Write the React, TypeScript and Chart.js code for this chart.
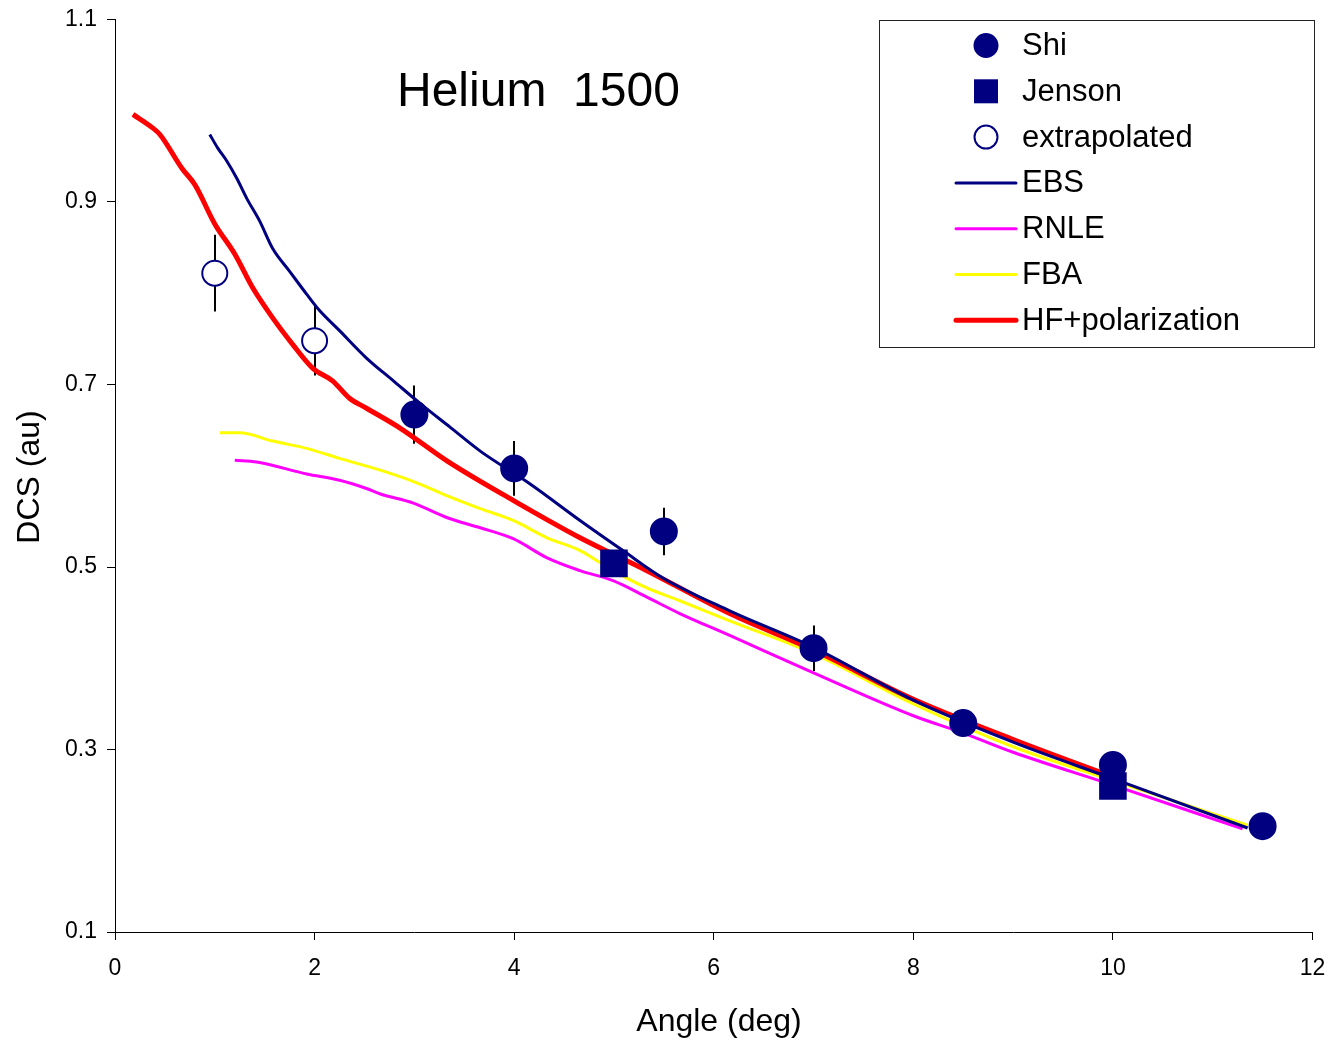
import React, { useEffect, useRef } from "react";
import { Chart, registerables } from "chart.js";

Chart.register(...registerables);

// ---- Data ----
const shiX = [3, 4, 5.5, 7, 8.5, 10, 11.5];
const shiY = [0.667, 0.608, 0.539, 0.411, 0.329, 0.283, 0.216];
const shiErr = [0.032, 0.03, 0.026, 0.025, 0.015, 0.015, 0];

const jensonX = [5, 10];
const jensonY = [0.504, 0.26];

const extrapX = [1, 2];
const extrapY = [0.822, 0.748];
const extrapErr = [0.042, 0.038];

const ebsX = [0.95, 1.03, 1.12, 1.22, 1.32, 1.45, 1.58, 1.75, 1.92, 2.05, 2.25, 2.52, 2.79, 3.06, 3.36, 3.66, 4.16, 4.66, 5.09, 5.49, 6.16, 7.0, 8.0, 9.0, 10.0, 11.35];
const ebsY = [0.974, 0.959, 0.945, 0.926, 0.904, 0.879, 0.849, 0.824, 0.799, 0.781, 0.759, 0.729, 0.704, 0.679, 0.653, 0.627, 0.591, 0.551, 0.518, 0.488, 0.452, 0.412, 0.354, 0.308, 0.268, 0.214];

const rnleX = [1.2, 1.42, 1.92, 2.25, 2.52, 2.66, 2.99, 3.33, 3.66, 3.99, 4.33, 4.66, 4.99, 5.33, 5.66, 6.16, 7.0, 8.0, 8.5, 9.0, 10.0, 11.3];
const rnleY = [0.617, 0.615, 0.602, 0.595, 0.586, 0.58, 0.57, 0.554, 0.543, 0.531, 0.51, 0.496, 0.485, 0.467, 0.449, 0.425, 0.384, 0.337, 0.318, 0.297, 0.261, 0.213];

const fbaX = [1.05, 1.25, 1.58, 1.92, 2.25, 2.69, 3.03, 3.33, 3.66, 3.99, 4.33, 4.66, 4.99, 5.33, 5.66, 6.16, 7.0, 8.0, 9.0, 10.0, 11.35];
const fbaY = [0.647, 0.647, 0.638, 0.63, 0.619, 0.605, 0.592, 0.578, 0.564, 0.551, 0.532, 0.518, 0.496, 0.477, 0.463, 0.441, 0.405, 0.35, 0.303, 0.266, 0.217];

const hfX = [0.18, 0.38, 0.45, 0.67, 0.8, 1.0, 1.2, 1.38, 1.58, 1.78, 1.98, 2.18, 2.35, 2.52, 2.86, 3.33, 3.99, 4.66, 5.33, 6.16, 7.0, 8.0, 9.0, 10.0];
const hfY = [0.996, 0.981, 0.974, 0.937, 0.919, 0.876, 0.843, 0.806, 0.773, 0.744, 0.718, 0.704, 0.685, 0.674, 0.652, 0.616, 0.573, 0.532, 0.496, 0.449, 0.409, 0.355, 0.311, 0.27];

const xTickMin = 0, xTickMax = 12, xTickStep = 2;
const yTickMin = 0.1, yTickMax = 1.1, yTickStep = 0.2;

const chartTitle = "Helium  1500";
const xTitle = "Angle (deg)";
const yTitle = "DCS (au)";

const NAVY = "#000080";
const FONT = "'Liberation Sans', Arial, sans-serif";

const zip = (xs: number[], ys: number[]) => xs.map((x, i) => ({ x, y: ys[i] }));

const errorBars = [
  { xs: shiX, ys: shiY, errs: shiErr },
  { xs: extrapX, ys: extrapY, errs: extrapErr },
];

const overlayPlugin = {
  id: "overlay",
  beforeDatasetsDraw(chart: any) {
    const { ctx, scales } = chart;
    const xs = scales.x, ys = scales.y;
    ctx.save();
    ctx.strokeStyle = "#000";
    ctx.lineWidth = 2;
    errorBars.forEach((s) => {
      s.xs.forEach((x, i) => {
        if (!s.errs[i]) return;
        const px = Math.round(xs.getPixelForValue(x));
        ctx.beginPath();
        ctx.moveTo(px, ys.getPixelForValue(s.ys[i] + s.errs[i]));
        ctx.lineTo(px, ys.getPixelForValue(s.ys[i] - s.errs[i]));
        ctx.stroke();
      });
    });
    ctx.restore();
  },
  afterDraw(chart: any) {
    const { ctx } = chart;
    ctx.save();
    ctx.fillStyle = "#000";
    // Title
    ctx.font = `48px ${FONT}`;
    ctx.textAlign = "left";
    ctx.textBaseline = "middle";
    ctx.fillText(chartTitle, 397, 93);
    // Axis titles
    ctx.font = `32px ${FONT}`;
    ctx.textAlign = "center";
    ctx.fillText(xTitle, 719, 1022);
    ctx.save();
    ctx.translate(30, 477);
    ctx.rotate(-Math.PI / 2);
    ctx.fillText(yTitle, 0, 0);
    ctx.restore();

    // Legend
    const bx = 879.5, by = 20.5, bw = 435, bh = 327;
    ctx.fillStyle = "#fff";
    ctx.fillRect(bx, by, bw, bh);
    ctx.strokeStyle = "#222";
    ctx.lineWidth = 1;
    ctx.strokeRect(bx, by, bw, bh);
    const rowY0 = 45.5, rowH = 45.8;
    const markX = 986, lineX0 = 956, lineX1 = 1016, textX = 1022;
    chart.data.datasets.forEach((ds: any, i: number) => {
      const y = rowY0 + i * rowH;
      if (ds.showLine) {
        ctx.strokeStyle = ds.borderColor;
        ctx.lineWidth = ds.borderWidth;
        ctx.lineCap = "round";
        ctx.beginPath();
        ctx.moveTo(lineX0, y);
        ctx.lineTo(lineX1, y);
        ctx.stroke();
      } else {
        ctx.fillStyle = ds.pointBackgroundColor;
        ctx.strokeStyle = ds.pointBorderColor;
        ctx.lineWidth = ds.pointBorderWidth;
        if (ds.pointStyle === "rect") {
          ctx.fillRect(markX - 12, y - 12, 24, 24);
        } else {
          ctx.beginPath();
          ctx.arc(markX, y, 11.5, 0, Math.PI * 2);
          ctx.fill();
          ctx.stroke();
        }
      }
      ctx.fillStyle = "#000";
      ctx.font = `31px ${FONT}`;
      ctx.textAlign = "left";
      ctx.textBaseline = "middle";
      ctx.fillText(ds.label, textX, y + 1);
    });
    ctx.restore();
  },
};

export default function App() {
  const ref = useRef<HTMLCanvasElement | null>(null);
  useEffect(() => {
    document.body.style.margin = "0";
    const canvas = ref.current!;
    const lineCommon = { showLine: true, pointRadius: 0, cubicInterpolationMode: "monotone" };
    const chart = new Chart(canvas, {
      type: "scatter",
      data: {
        datasets: [
          {
            label: "Shi",
            data: zip(shiX, shiY),
            showLine: false,
            pointStyle: "circle",
            pointRadius: 13,
            pointBackgroundColor: NAVY,
            pointBorderColor: NAVY,
            pointBorderWidth: 2,
            order: 0,
          },
          {
            label: "Jenson",
            data: zip(jensonX, jensonY),
            showLine: false,
            pointStyle: "rect",
            pointRadius: 19.5,
            pointBackgroundColor: NAVY,
            pointBorderColor: NAVY,
            pointBorderWidth: 0,
            order: 0,
          },
          {
            label: "extrapolated",
            data: zip(extrapX, extrapY),
            showLine: false,
            pointStyle: "circle",
            pointRadius: 12.5,
            pointBackgroundColor: "#fff",
            pointBorderColor: NAVY,
            pointBorderWidth: 2,
            order: 0,
          },
          { label: "EBS", data: zip(ebsX, ebsY), ...lineCommon, borderColor: NAVY, borderWidth: 3, order: 1 },
          { label: "RNLE", data: zip(rnleX, rnleY), ...lineCommon, borderColor: "#ff00ff", borderWidth: 3, order: 4 },
          { label: "FBA", data: zip(fbaX, fbaY), ...lineCommon, borderColor: "#ffff00", borderWidth: 3, order: 3 },
          { label: "HF+polarization", data: zip(hfX, hfY), ...lineCommon, borderColor: "#ff0000", borderWidth: 5, order: 2 },
        ] as any,
      },
      options: {
        animation: false,
        responsive: false,
        layout: { padding: { top: 18, right: 19, left: 0, bottom: 0 } },
        plugins: { legend: { display: false }, tooltip: { enabled: false }, title: { display: false } },
        scales: {
          x: {
            type: "linear",
            min: xTickMin,
            max: xTickMax,
            afterFit: (s: any) => { s.height = 109; s.paddingLeft = 0; s.paddingRight = 0; },
            ticks: { stepSize: xTickStep, color: "#000", font: { family: FONT, size: 23 }, padding: 15, maxRotation: 0 },
            grid: { drawOnChartArea: false, drawTicks: true, tickLength: 8, color: "#000" },
            border: { color: "#000", width: 1 },
          },
          y: {
            type: "linear",
            min: yTickMin,
            max: yTickMax,
            afterFit: (s: any) => { s.width = 115; s.paddingTop = 0; s.paddingBottom = 0; },
            ticks: {
              stepSize: yTickStep,
              color: "#000",
              font: { family: FONT, size: 23 },
              padding: 10,
              callback: (v: any) => Number(v).toFixed(1),
            },
            grid: { drawOnChartArea: false, drawTicks: true, tickLength: 8, color: "#000" },
            border: { color: "#000", width: 1 },
          },
        },
      } as any,
      plugins: [overlayPlugin],
    });
    return () => chart.destroy();
  }, []);
  return <canvas ref={ref} width={1332} height={1041} style={{ display: "block" }} />;
}
